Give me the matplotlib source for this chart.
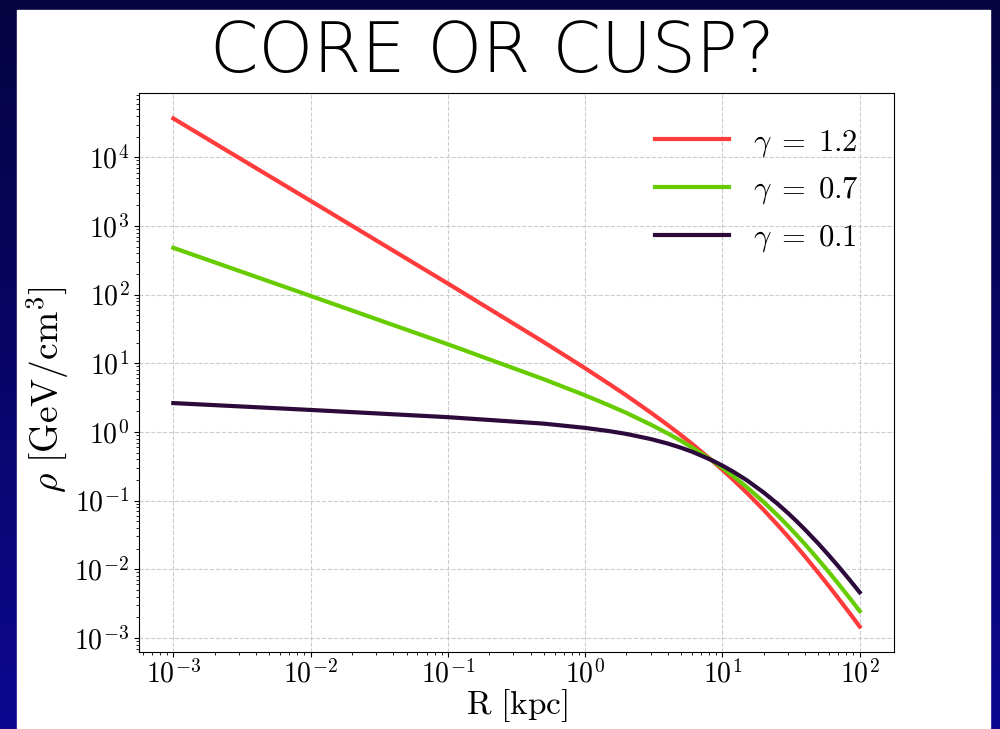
import matplotlib
matplotlib.use("Agg")
import matplotlib.pyplot as plt
import numpy as np
from matplotlib.patches import Rectangle
from matplotlib.ticker import FuncFormatter

R_kpc = [0.001, 0.01, 0.1, 0.5, 1, 1.5, 2, 3, 4, 5, 6, 8.3, 10, 12, 15, 20,
         25, 30, 35, 40, 50, 60, 70, 85, 100]

# density [GeV/cm^3]
rho_12 = [3.68e4, 2.32e3, 145, 20.3, 8.46, 4.98, 3.39, 1.92, 1.26, 0.896,
          0.671, 0.39, 0.281, 0.201, 0.131, 0.0729, 0.0451, 0.0300, 0.0210,
          0.0153, 8.86e-3, 5.60e-3, 3.76e-3, 2.26e-3, 1.46e-3]
rho_07 = [480, 95.7, 18.9, 5.85, 3.41, 2.43, 1.89, 1.28, 0.950, 0.740,
          0.595, 0.39, 0.300, 0.227, 0.158, 0.0951, 0.0620, 0.0429, 0.0309,
          0.0231, 0.0138, 8.95e-3, 6.13e-3, 3.75e-3, 2.46e-3]
rho_01 = [2.63, 2.09, 1.64, 1.32, 1.145, 1.027, 0.934, 0.788, 0.677, 0.588,
          0.516, 0.39, 0.323, 0.263, 0.199, 0.131, 0.0910, 0.0659, 0.0492,
          0.0377, 0.0236, 0.0157, 0.0110, 6.90e-3, 4.61e-3]

labels = [r"$\gamma\;=\;1.2$", r"$\gamma\;=\;0.7$", r"$\gamma\;=\;0.1$"]
colors = ["#ff3b3b", "#66cc00", "#2c0a3c"]

plt.rcParams["mathtext.fontset"] = "cm"
plt.rcParams["font.family"] = "DejaVu Serif"

fig = plt.figure(figsize=(10, 7.29), dpi=100)

# slide background: blue gradient with a white panel
bg = fig.add_axes([0, 0, 1, 1])
grad = np.linspace(0, 1, 256).reshape(-1, 1)
cmap = matplotlib.colors.LinearSegmentedColormap.from_list("bg", ["#050340", "#0c0890"])
bg.imshow(grad, aspect="auto", cmap=cmap, extent=[0, 1, 0, 1], origin="upper")
bg.add_patch(Rectangle((0.017, 0), 0.973, 1 - 10 / 729, color="white", zorder=2))
bg.set_xlim(0, 1)
bg.set_ylim(0, 1)
bg.axis("off")

fig.text(0.492, 0.928, "CORE OR CUSP?", ha="center", va="center",
         fontsize=50, family="DejaVu Sans", fontweight="light")

ax = fig.add_axes([0.139, 0.1056, 0.755, 0.7668])
for vals, lab, col in zip([rho_12, rho_07, rho_01], labels, colors):
    ax.plot(R_kpc, vals, color=col, lw=3, label=lab)

ax.set_xscale("log")
ax.set_yscale("log")
powfmt = FuncFormatter(lambda v, p: r"$10^{%d}$" % round(np.log10(v)))
ax.xaxis.set_major_formatter(powfmt)
ax.yaxis.set_major_formatter(powfmt)
ax.grid(True, ls="--", color="#cccccc", lw=0.8)
ax.tick_params(labelsize=20)
ax.tick_params(axis="x", pad=2)
ax.set_xlabel(r"$\mathrm{R\ [kpc]}$", fontsize=24, labelpad=-1)
ax.set_ylabel(r"$\rho\ [\mathrm{GeV/cm^3}]$", fontsize=27)
ax.yaxis.set_label_coords(-0.09, 0.47)
ax.legend(loc="upper right", frameon=False, fontsize=22, handlelength=2.4,
          labelspacing=0.5, bbox_to_anchor=(0.99, 0.99))

fig.savefig("out.png", dpi=100)
